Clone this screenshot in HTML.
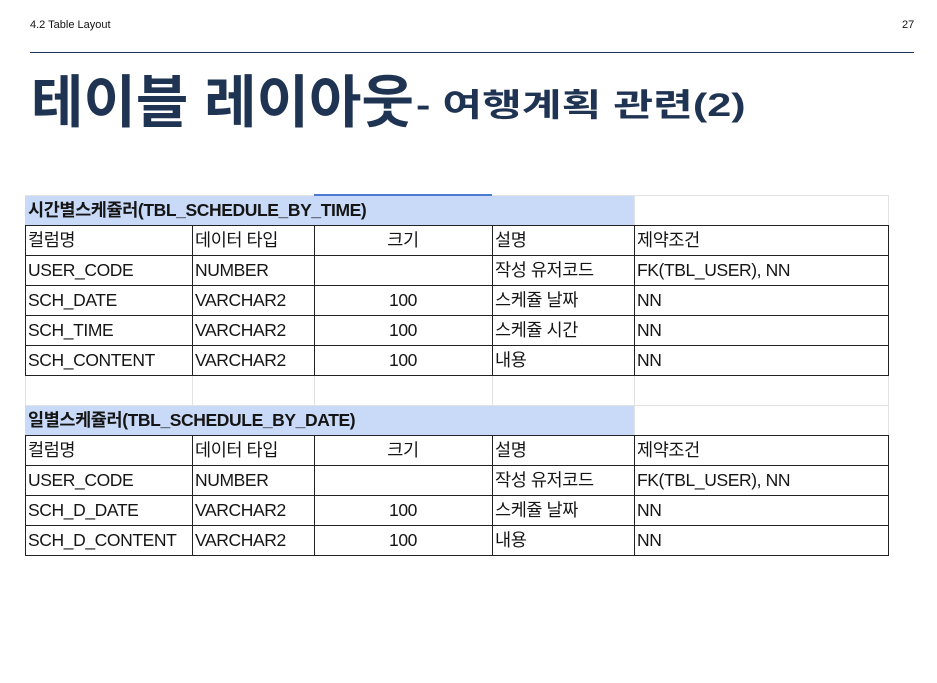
<!DOCTYPE html>
<html><head><meta charset="utf-8">
<style>
body{margin:0;width:937px;height:683px;background:#fff;position:relative;overflow:hidden;font-family:"Liberation Sans","Noto Sans CJK KR",sans-serif;}
.abs{position:absolute;}
.cell{position:absolute;box-sizing:border-box;font-size:17.5px;line-height:31px;color:#151515;padding-left:3px;white-space:nowrap;overflow:hidden;letter-spacing:-0.4px;}
</style></head>
<body>
<div class="abs" style="left:30px;top:19px;font-size:11px;color:#111;">4.2 Table Layout</div>
<div class="abs" style="left:902px;top:19px;font-size:11px;color:#111;">27</div>
<div class="abs" style="left:30px;top:52px;width:884px;height:1px;background:#1f3352;"></div>
<div class="abs" style="left:31px;top:68px;color:#1f3352;font-weight:bold;white-space:nowrap;font-size:57px;line-height:70px;">테이블 레이아웃</div>
<div class="abs" style="left:416px;top:84px;color:#1f3352;font-weight:bold;white-space:nowrap;font-size:32px;line-height:42px;transform:scaleX(1.35);transform-origin:0 0;">- 여행계획 관련(2)</div>
<div id="sheet"></div>
<script>
const cols=[25,192,314,492,634,888];
const top0=195,rh=30;
const headers=["컬럼명","데이터 타입","크기","설명","제약조건"];
const t1Title="시간별스케쥴러(TBL_SCHEDULE_BY_TIME)";
const t1Rows=[["USER_CODE","NUMBER","","작성 유저코드","FK(TBL_USER), NN"],["SCH_DATE","VARCHAR2","100","스케쥴 날짜","NN"],["SCH_TIME","VARCHAR2","100","스케쥴 시간","NN"],["SCH_CONTENT","VARCHAR2","100","내용","NN"]];
const t2Title="일별스케쥴러(TBL_SCHEDULE_BY_DATE)";
const t2Rows=[["USER_CODE","NUMBER","","작성 유저코드","FK(TBL_USER), NN"],["SCH_D_DATE","VARCHAR2","100","스케쥴 날짜","NN"],["SCH_D_CONTENT","VARCHAR2","100","내용","NN"]];
const sheet=document.getElementById('sheet');
function box(x,y,w,h,bg){const d=document.createElement('div');d.className='abs';d.style.cssText=`left:${x}px;top:${y}px;width:${w}px;height:${h}px;background:${bg}`;sheet.appendChild(d);return d;}
const nRows=12;
for(let r=0;r<=nRows;r++){const g=box(25,top0+r*rh,863,1,'#e2e2e2');}
for(const x of cols){const g=box(x,top0,1,nRows*rh,'#e2e2e2');}
function table(startRow,title,rows){
 const y0=top0+startRow*rh;
 const hb=box(25,y0+1,609,rh-1,'#c9daf8');
 
 
 const t=document.createElement('div');t.className='cell';t.style.cssText=`left:25px;top:${y0}px;width:609px;height:${rh}px;font-weight:bold;`;t.textContent=title;
 
 
 sheet.appendChild(t);
 const all=[headers].concat(rows);
 all.forEach((row,i)=>{
  const y=y0+(i+1)*rh;
  row.forEach((v,c)=>{
   const d=document.createElement('div');d.className='cell';
   d.style.cssText=`left:${cols[c]}px;top:${y}px;width:${cols[c+1]-cols[c]}px;height:${rh}px;background:#fff;`+(c==2?'text-align:center;padding-left:0;':'');
   d.textContent=v;
   
   
   sheet.appendChild(d);
  });
  const l=box(25,y,864,1,'#222');
  
  
 });
 const yb=y0+(all.length+1)*rh;
 const lb=box(25,yb,864,1,'#222');
 
 
 for(const x of cols){const v=box(x,y0+rh,1,all.length*rh+1,'#222');
  
  }
}
table(0,t1Title,t1Rows);
table(7,t2Title,t2Rows);
const sel=box(314,top0-1,178,2,'#4a7bd0');


</script>
</body></html>
